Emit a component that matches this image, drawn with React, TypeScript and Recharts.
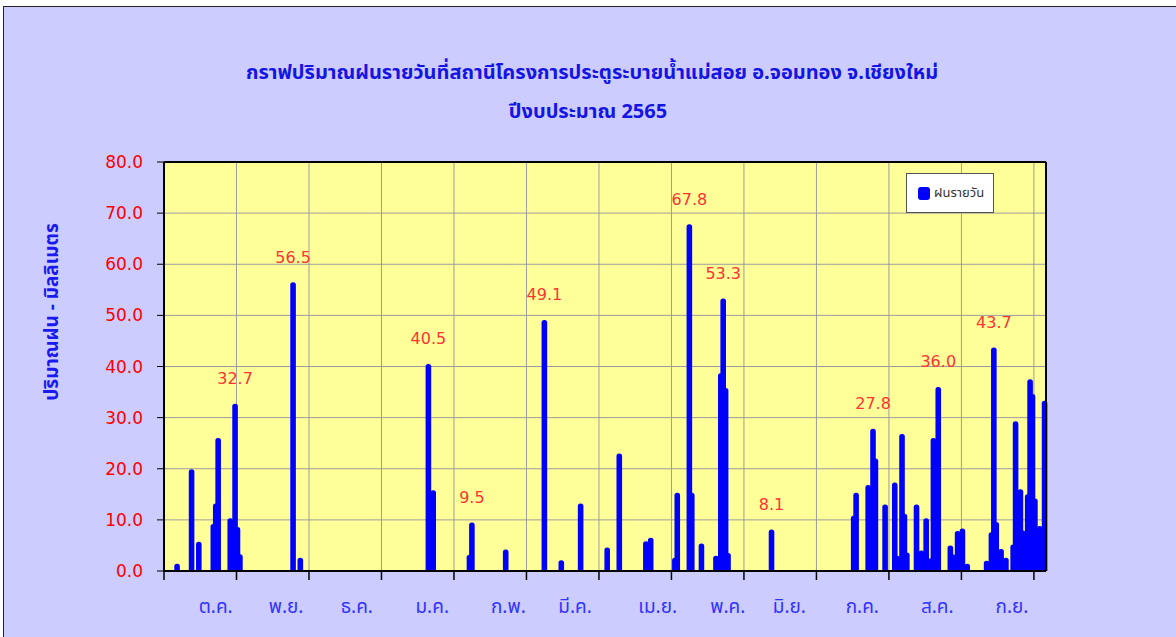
import React from 'react';
import { BarChart, Bar, XAxis, YAxis, CartesianGrid, LabelList, Legend } from 'recharts';

const TITLE_1 = 'กราฟปริมาณฝนรายวันที่สถานีโครงการประตูระบายน้ำแม่สอย อ.จอมทอง จ.เชียงใหม่';
const TITLE_2 = 'ปีงบประมาณ 2565';
const Y_TITLE = 'ปริมาณฝน - มิลลิเมตร';
const SERIES_NAME = 'ฝนรายวัน';
const DAY_COUNT = 365; // 1 Oct 2021 .. 30 Sep 2022

// day index (0 = 1 ต.ค.) of every rainy day, and its rainfall (mm)
const rainDays = [
  5, 11, 14, 20, 21, 22, 27, 29, 30, 31,
  53, 56,
  109, 111,
  126, 127, 141,
  157, 164, 172,
  183, 188, 199, 201,
  211, 212, 217, 218, 222, 228, 230, 231, 232, 233,
  251,
  285, 286, 291, 293, 294, 298, 302, 303, 305, 306, 307,
  311, 312, 313, 315, 317, 318, 320, 325, 326, 328, 330, 332,
  340, 342, 343, 344, 346, 348, 351, 352, 354, 355, 357, 358, 359, 360, 362, 364,
];
const rainMm = [
  1.4, 19.9, 5.7, 9.2, 13.2, 26.0, 10.3, 32.7, 8.6, 3.3,
  56.5, 2.6,
  40.5, 15.8,
  3.2, 9.5, 4.2,
  49.1, 2.1, 13.2,
  4.6, 23.0, 5.8, 6.5,
  2.6, 15.3, 67.8, 15.3, 5.4, 3.0, 38.7, 53.3, 35.8, 3.5,
  8.1,
  10.8, 15.3, 16.8, 27.8, 22.0, 13.0, 17.3, 3.0, 26.8, 11.2, 3.6,
  13.0, 2.4, 4.0, 10.3, 2.5, 26.0, 36.0, 5.0, 3.3, 7.8, 8.3, 1.4,
  2.0, 7.6, 43.7, 9.6, 4.3, 2.6, 5.2, 29.3, 16.0, 7.9, 15.0, 37.5, 34.6, 14.2, 8.8, 33.3,
];
// days whose value is printed above the bar
const labelledDays = [29, 53, 109, 127, 157, 217, 231, 251, 293, 320, 343];

const monthNames = ['ต.ค.', 'พ.ย.', 'ธ.ค.', 'ม.ค.', 'ก.พ.', 'มี.ค.', 'เม.ย.', 'พ.ค.', 'มิ.ย.', 'ก.ค.', 'ส.ค.', 'ก.ย.'];
const monthLabelDays = [21.4, 50.5, 79.8, 111, 142.5, 170.1, 204.3, 233.3, 258.8, 289, 320, 350.9];
const gridDays = [0, 30, 60, 90, 120, 150, 180, 210, 240, 270, 300, 330, 360];
const yTicks = [0, 10, 20, 30, 40, 50, 60, 70, 80];

const data = Array.from({ length: DAY_COUNT }, (_, i) => {
  const k = rainDays.indexOf(i);
  const v = k >= 0 ? rainMm[k] : 0;
  return { day: i, rain: v, label: labelledDays.includes(i) ? v : undefined };
});

const NUM_FONT = '"DejaVu Sans", Tahoma, sans-serif';
const THAI_FONT = 'Tahoma, "Noto Sans Thai", "Noto Sans", "DejaVu Sans", sans-serif';
const BLUE = '#0000FF';

const RainBar = (props: any) => {
  const { x, y, width, height } = props;
  if (!height || height <= 0) return null;
  const w = 5.6;
  const cx = x + width / 2;
  const r = Math.min(2.6, height);
  const l = cx - w / 2;
  const rt = cx + w / 2;
  const b = y + height;
  return (
    <path
      d={`M${l},${b} L${l},${y + r} Q${l},${y} ${l + r},${y} L${rt - r},${y} Q${rt},${y} ${rt},${y + r} L${rt},${b} Z`}
      fill={BLUE}
    />
  );
};

const PeakLabel = (props: any) => {
  const { x, y, width, value } = props;
  if (value === undefined || value === null) return null;
  return (
    <text
      x={x + width / 2}
      y={y - 25}
      textAnchor="middle"
      dominantBaseline="central"
      fill="#FF3333"
      fontSize={16}
      fontFamily={NUM_FONT}
    >
      {Number(value).toFixed(1)}
    </text>
  );
};

const MonthTick = (props: any) => {
  const { x, y, payload } = props;
  return (
    <text
      x={x}
      y={y + 27}
      textAnchor="middle"
      dominantBaseline="central"
      fill="#3333FF"
      fontSize={19}
      fontFamily={THAI_FONT}
    >
      {monthNames[payload.index]}
    </text>
  );
};

const EmptyTick = () => <g />;

const LegendBox = (props: any) => {
  const item = (props.payload && props.payload[0]) || { value: SERIES_NAME, color: BLUE };
  return (
    <div
      style={{
        width: 88,
        height: 40,
        boxSizing: 'border-box',
        background: '#FFFFFF',
        border: '1px solid #555555',
        display: 'flex',
        alignItems: 'center',
        paddingLeft: 11,
      }}
    >
      <span style={{ width: 12, height: 13, background: item.color, borderRadius: 3, marginRight: 4, display: 'inline-block' }} />
      <span style={{ fontSize: 13, color: '#333333', fontFamily: THAI_FONT }}>{item.value}</span>
    </div>
  );
};

export default function App() {
  return (
    <div style={{ position: 'absolute', left: 0, top: 0, width: 1176, height: 637, background: '#FFFFFF', overflow: 'hidden' }}>
      <div
        style={{
          position: 'absolute',
          left: 3,
          top: 6,
          width: 1200,
          height: 700,
          background: '#CCCCFF',
          border: '1px solid #222222',
        }}
      />
      <div
        style={{
          position: 'absolute',
          left: 0,
          width: 1176,
          top: 58,
          textAlign: 'center',
          color: '#1414E6',
          fontWeight: 'bold',
          fontSize: 20,
          lineHeight: '30px',
          fontFamily: THAI_FONT,
          paddingLeft: 8,
          boxSizing: 'border-box',
        }}
      >
        {TITLE_1}
      </div>
      <div
        style={{
          position: 'absolute',
          left: 0,
          width: 1176,
          top: 97,
          textAlign: 'center',
          color: '#1414E6',
          fontWeight: 'bold',
          fontSize: 20,
          lineHeight: '30px',
          fontFamily: THAI_FONT,
        }}
      >
        {TITLE_2}
      </div>
      <div
        style={{
          position: 'absolute',
          left: 52,
          top: 312,
          transform: 'translate(-50%, -50%) rotate(-90deg)',
          whiteSpace: 'nowrap',
          color: '#1A1AF0',
          fontSize: 19,
          fontWeight: 'bold',
          fontFamily: THAI_FONT,
        }}
      >
        {Y_TITLE}
      </div>
      <div style={{ position: 'absolute', left: 0, top: 0 }}>
        <BarChart
          width={1176}
          height={637}
          data={data}
          margin={{ top: 161, right: 129, bottom: 0, left: 104 }}
          barCategoryGap={0}
        >
          <CartesianGrid xAxisId="grid" stroke="#9C9C9C" strokeWidth={1} fill="#FFFF99" />
          <XAxis xAxisId="cat" dataKey="day" type="category" hide height={0} />
          <XAxis
            xAxisId="grid"
            dataKey="day"
            type="number"
            domain={[0, DAY_COUNT]}
            ticks={gridDays}
            tick={<EmptyTick />}
            interval={0}
            tickSize={9}
            height={9}
            axisLine={{ stroke: '#000000', strokeWidth: 2 }}
            tickLine={{ stroke: '#000000', strokeWidth: 1.5 }}
            allowDataOverflow
          />
          <XAxis
            xAxisId="lbl"
            dataKey="day"
            type="number"
            domain={[0, DAY_COUNT]}
            ticks={monthLabelDays}
            tick={<MonthTick />}
            tickSize={0}
            tickMargin={0}
            height={57}
            axisLine={false}
            tickLine={false}
            interval={0}
            allowDataOverflow
          />
          <XAxis
            xAxisId="top"
            orientation="top"
            dataKey="day"
            type="number"
            domain={[0, DAY_COUNT]}
            ticks={[]}
            tick={false}
            tickLine={false}
            height={1}
            axisLine={{ stroke: '#000000', strokeWidth: 2 }}
            allowDataOverflow
          />
          <YAxis
            domain={[0, 80]}
            ticks={yTicks}
            interval={0}
            width={60}
            tickSize={7}
            tickMargin={14}
            tickFormatter={(v: number) => v.toFixed(1)}
            tick={{ fill: '#FF0000', fontSize: 17, fontFamily: NUM_FONT }}
            axisLine={{ stroke: '#000000', strokeWidth: 2 }}
            tickLine={{ stroke: '#000000', strokeWidth: 1 }}
          />
          <YAxis
            yAxisId="right"
            orientation="right"
            domain={[0, 80]}
            ticks={[]}
            tick={false}
            tickLine={false}
            width={1}
            axisLine={{ stroke: '#000000', strokeWidth: 2 }}
          />
          <Legend
            layout="vertical"
            align="center"
            verticalAlign="middle"
            content={<LegendBox />}
            wrapperStyle={{ left: 906, top: 173, width: 88, height: 40 }}
          />
          <Bar
            xAxisId="cat"
            dataKey="rain"
            name={SERIES_NAME}
            fill={BLUE}
            shape={<RainBar />}
            isAnimationActive={false}
          >
            <LabelList dataKey="label" content={<PeakLabel />} />
          </Bar>
        </BarChart>
      </div>
    </div>
  );
}
